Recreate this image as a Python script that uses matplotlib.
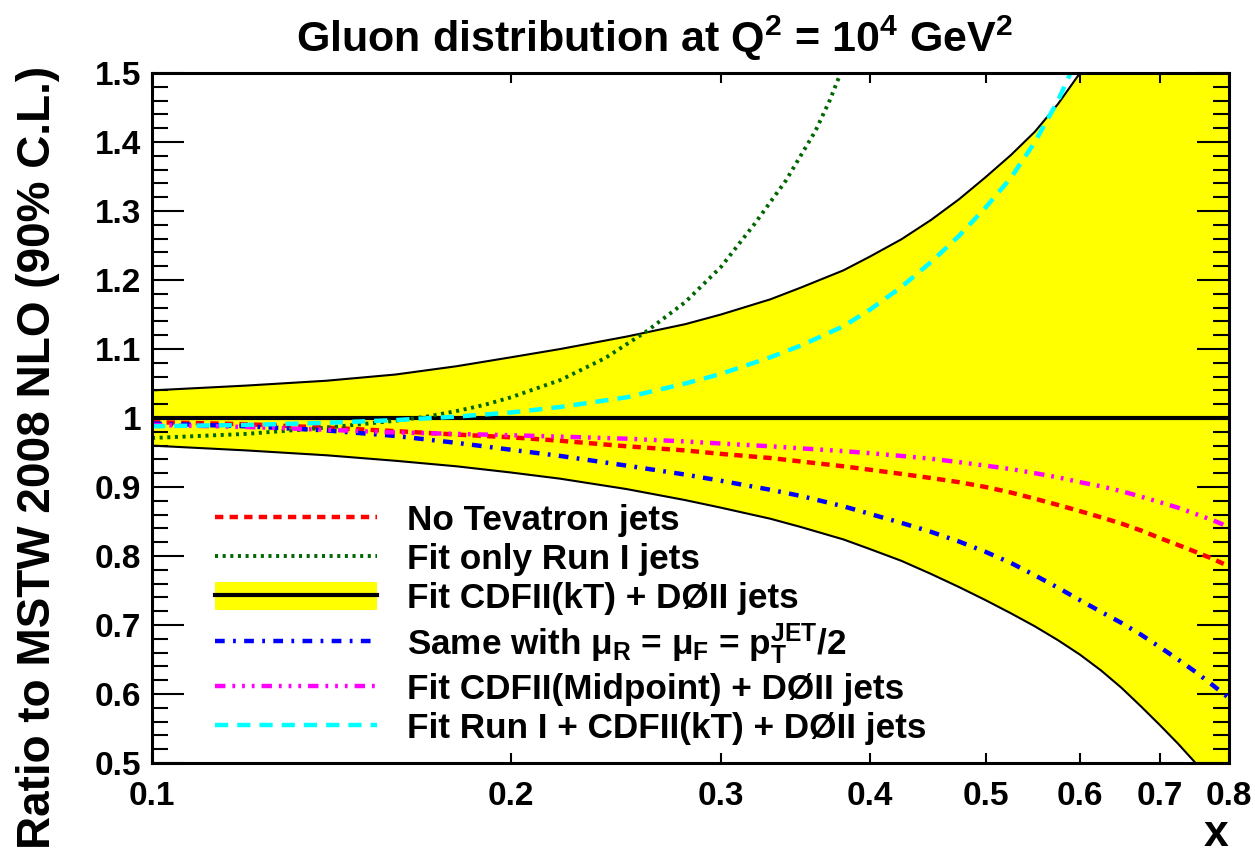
import matplotlib
matplotlib.use("Agg")
import matplotlib.pyplot as plt
from matplotlib.lines import Line2D
from matplotlib.patches import Patch
from matplotlib.ticker import FixedLocator, FixedFormatter, MultipleLocator, NullLocator

# ---------------- data ----------------
x_vals = [0.10, 0.12, 0.14, 0.16, 0.18, 0.20, 0.22, 0.25, 0.28, 0.30, 0.33, 0.35,
          0.38, 0.40, 0.425, 0.45, 0.475, 0.50, 0.525, 0.55, 0.575, 0.60, 0.625, 0.65,
          0.675, 0.70, 0.725, 0.75, 0.775, 0.80]

band_upper = [1.040, 1.047, 1.054, 1.063, 1.075, 1.088, 1.100, 1.118, 1.136, 1.150, 1.172, 1.189,
              1.214, 1.234, 1.259, 1.287, 1.317, 1.349, 1.381, 1.415, 1.455, 1.500, 1.550, 1.605,
              1.665, 1.730, 1.800, 1.870, 1.940, 2.020]
band_lower = [0.960, 0.953, 0.946, 0.938, 0.930, 0.921, 0.912, 0.897, 0.881, 0.870, 0.854, 0.842,
              0.824, 0.810, 0.793, 0.774, 0.755, 0.736, 0.717, 0.698, 0.678, 0.657, 0.634, 0.609,
              0.582, 0.555, 0.528, 0.500, 0.470, 0.440]
central    = [1.0] * len(x_vals)

no_tevatron = [0.994, 0.991, 0.986, 0.981, 0.976, 0.972, 0.967, 0.959, 0.953, 0.948, 0.942, 0.937,
               0.930, 0.925, 0.919, 0.913, 0.907, 0.900, 0.892, 0.883, 0.874, 0.865, 0.856, 0.847,
               0.837, 0.826, 0.816, 0.806, 0.796, 0.785]
scale_half  = [0.992, 0.988, 0.982, 0.974, 0.964, 0.954, 0.945, 0.931, 0.918, 0.909, 0.896, 0.887,
               0.872, 0.861, 0.848, 0.835, 0.821, 0.806, 0.790, 0.772, 0.754, 0.736, 0.719, 0.703,
               0.686, 0.668, 0.650, 0.632, 0.613, 0.594]
midpoint    = [0.990, 0.987, 0.983, 0.979, 0.977, 0.975, 0.973, 0.970, 0.966, 0.963, 0.959, 0.956,
               0.952, 0.949, 0.945, 0.941, 0.936, 0.931, 0.926, 0.920, 0.914, 0.907, 0.901, 0.894,
               0.886, 0.878, 0.870, 0.861, 0.852, 0.842]
run1_plus   = [0.988, 0.990, 0.993, 0.997, 1.002, 1.008, 1.016, 1.030, 1.050, 1.064, 1.088, 1.105,
               1.133, 1.157, 1.190, 1.226, 1.264, 1.305, 1.348, 1.400, 1.460, 1.530, 1.610, 1.700,
               1.800, 1.920, 2.050, 2.200, 2.350, 2.500]

# "Fit only Run I jets" leaves the frame early; it has its own x samples
run1_x    = [0.10, 0.12, 0.14, 0.16, 0.17, 0.18, 0.19, 0.20, 0.22, 0.24, 0.26, 0.28,
             0.30, 0.32, 0.34, 0.36, 0.37, 0.38, 0.39]
only_run1 = [0.971, 0.977, 0.986, 0.996, 1.002, 1.010, 1.019, 1.030, 1.055, 1.087, 1.126, 1.168,
             1.219, 1.281, 1.344, 1.416, 1.460, 1.510, 1.565]

x_ticks = [0.1, 0.2, 0.3, 0.4, 0.5, 0.6, 0.7, 0.8]
x_tick_labels = ["0.1", "0.2", "0.3", "0.4", "0.5", "0.6", "0.7", "0.8"]
y_ticks = [0.5, 0.6, 0.7, 0.8, 0.9, 1.0, 1.1, 1.2, 1.3, 1.4, 1.5]
y_tick_labels = ["0.5", "0.6", "0.7", "0.8", "0.9", "1", "1.1", "1.2", "1.3", "1.4", "1.5"]

labels = ["No Tevatron jets",
          "Fit only Run I jets",
          "Fit CDFII(kT) + DØII jets",
          r"Same with $\mu_{R}$ = $\mu_{F}$ = p$_{T}^{JET}$/2",
          "Fit CDFII(Midpoint) + DØII jets",
          "Fit Run I + CDFII(kT) + DØII jets"]

# ---------------- style ----------------
plt.rcParams["font.family"] = ["Liberation Sans", "DejaVu Sans"]
plt.rcParams["font.weight"] = "bold"
plt.rcParams["mathtext.fontset"] = "custom"
plt.rcParams["mathtext.rm"] = "Liberation Sans:bold"
plt.rcParams["mathtext.it"] = "Liberation Sans:bold"
plt.rcParams["mathtext.bf"] = "Liberation Sans:bold"
plt.rcParams["mathtext.sf"] = "Liberation Sans:bold"
plt.rcParams["mathtext.default"] = "rm"
plt.rcParams["lines.scale_dashes"] = False

fig = plt.figure(figsize=(12.55, 8.56), dpi=100)
ax = fig.add_axes([152 / 1255, 1 - 763 / 856, (1229 - 152) / 1255, (763 - 73) / 856])

ax.fill_between(x_vals, band_lower, band_upper, facecolor="#ffff00", edgecolor="none", zorder=1)
ax.plot(x_vals, band_upper, color="black", lw=1.5, zorder=2)
ax.plot(x_vals, band_lower, color="black", lw=1.5, zorder=2)
ax.plot(x_vals, central, color="black", lw=3.0, zorder=3)

l_red, = ax.plot(x_vals, no_tevatron, color="#ff0000", lw=3.2, dashes=(6, 4.5), zorder=4)
l_grn, = ax.plot(run1_x, only_run1, color="#006600", lw=2.8, dashes=(2.2, 3.3), zorder=4)
l_blu, = ax.plot(x_vals, scale_half, color="#0000ff", lw=3.2, dashes=(7, 6, 2, 6), zorder=4)
l_mag, = ax.plot(x_vals, midpoint, color="#ff00ff", lw=3.2,
                 dashes=(7.5, 5, 2, 5, 2, 5, 2, 5), zorder=4)
l_cya, = ax.plot(x_vals, run1_plus, color="#00ffff", lw=3.2, dashes=(9.5, 6.5), zorder=4)

ax.set_xscale("log")
ax.set_xlim(0.1, 0.8)
ax.set_ylim(0.5, 1.5)

ax.xaxis.set_major_locator(FixedLocator(x_ticks))
ax.xaxis.set_major_formatter(FixedFormatter(x_tick_labels))
ax.xaxis.set_minor_locator(NullLocator())
ax.yaxis.set_major_locator(FixedLocator(y_ticks))
ax.yaxis.set_major_formatter(FixedFormatter(y_tick_labels))
ax.yaxis.set_minor_locator(MultipleLocator(0.02))

ax.tick_params(axis="x", which="major", direction="in", length=7, width=1.5,
               top=True, bottom=True, labelsize=24, pad=13)
ax.tick_params(axis="y", which="major", direction="in", length=23, width=1.5,
               left=True, right=True, labelsize=24, pad=8)
ax.tick_params(axis="y", which="minor", direction="in", length=11.5, width=1.5,
               left=True, right=True)
for lab in ax.get_xticklabels() + ax.get_yticklabels():
    lab.set_fontweight("bold")
for sp in ax.spines.values():
    sp.set_linewidth(2.2)
    sp.set_zorder(6)

band_handle = (Patch(facecolor="#ffff00", edgecolor="none"),
               Line2D([], [], color="black", lw=3.0))
handles = [l_red, l_grn, band_handle, l_blu, l_mag, l_cya]
leg = ax.legend(handles, labels, loc="upper left",
                bbox_to_anchor=(215 / 1255, 1 - 504 / 856), bbox_transform=fig.transFigure,
                frameon=False, fontsize=25.3, handlelength=4.6, handleheight=0.85,
                handletextpad=0.85, labelspacing=0.165, borderpad=0, borderaxespad=0)
leg.set_zorder(7)

fig.text(655 / 1255, 1 - 38 / 856, r"Gluon distribution at Q$^{2}$ = 10$^{4}$ GeV$^{2}$",
         ha="center", va="center", fontsize=31, fontweight="bold")
fig.text(38 / 1255, 1 - 457 / 856, "Ratio to MSTW 2008 NLO (90% C.L.)", rotation=90,
         ha="center", va="center", fontsize=33, fontweight="bold")
fig.text(1228 / 1255, 1 - 834 / 856, "x", ha="right", va="center",
         fontsize=32, fontweight="bold")

fig.savefig("out.png", dpi=100)
